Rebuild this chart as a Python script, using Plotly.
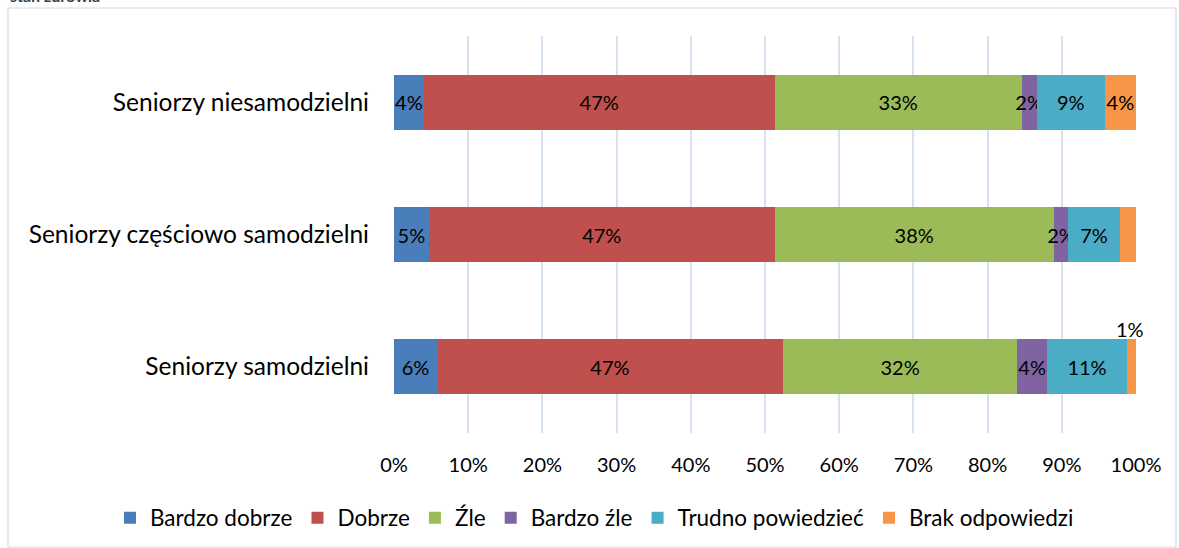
import plotly.graph_objects as go

categories = ["Seniorzy samodzielni", "Seniorzy częściowo samodzielni", "Seniorzy niesamodzielni"]
series_names = ["Bardzo dobrze", "Dobrze", "Źle", "Bardzo źle", "Trudno powiedzieć", "Brak odpowiedzi"]
# values in percent, order matches categories
bardzo_dobrze = [5.8, 4.7, 4.0]
dobrze = [46.6, 46.6, 47.3]
zle = [31.6, 37.6, 33.3]
bardzo_zle = [4.0, 2.0, 2.0]
trudno = [10.8, 6.9, 9.2]
brak = [1.2, 2.2, 4.2]
series_values = [bardzo_dobrze, dobrze, zle, bardzo_zle, trudno, brak]
# which labels are shown inside bars
show_label = [
    [True, True, True],
    [True, True, True],
    [True, True, True],
    [True, True, True],
    [True, True, True],
    [False, False, True],
]
colors = ["#4a7ebb", "#c0504d", "#9bbb59", "#8064a2", "#4bacc6", "#f79646"]
x_ticks = [0, 10, 20, 30, 40, 50, 60, 70, 80, 90, 100]

W, H = 1179, 548
L, T = 394, 36
pw, ph = 742, 397
R, B = W - L - pw, H - T - ph
FONT = "Lato"

fig = go.Figure()
for name, vals, show, col in zip(series_names, series_values, show_label, colors):
    txt = [f"{round(v)}%" if s else "" for v, s in zip(vals, show)]
    fig.add_trace(go.Bar(
        y=categories, x=vals, name=name, orientation="h",
        marker=dict(color=col, line=dict(width=0)),
        text=txt, textposition="inside", insidetextanchor="middle",
        textangle=0, constraintext="none",
        textfont=dict(color="black", size=20, family=FONT),
        hoverinfo="skip",
    ))

# outside label for the small orange segment of the bottom bar
cum = sum(series_values[i][0] for i in range(5))
fig.add_annotation(x=cum + brak[0] / 2, y=categories[0], text=f"{round(brak[0])}%",
                   showarrow=False, yshift=38, xshift=-2,
                   font=dict(size=20, color="black", family=FONT))

def px2x(px):  # pixel -> paper x
    return (px - L) / pw

def py2y(py):  # pixel -> paper y
    return 1 - (py - T) / ph

fig.add_shape(type="rect", xref="paper", yref="paper",
              x0=px2x(8), x1=px2x(1176), y0=py2y(547), y1=py2y(8),
              line=dict(color="#d5dde8", width=1.2), layer="below")

fig.add_annotation(xref="paper", yref="paper", x=px2x(8), y=py2y(-4), xanchor="left",
                   yanchor="middle", text="<b>stan zdrowia</b>", showarrow=False,
                   font=dict(size=16, color="#404040", family=FONT))

fig.update_layout(
    width=W, height=H, barmode="stack", bargap=0.585,
    margin=dict(l=L, r=R, t=T, b=B, autoexpand=False),
    paper_bgcolor="white", plot_bgcolor="white",
    font=dict(family=FONT, color="black"),
    legend=dict(orientation="h", x=px2x(110), xanchor="left", y=py2y(518), yanchor="middle",
                traceorder="normal", font=dict(size=22.5, family=FONT),
                itemwidth=30, tracegroupgap=0),
    showlegend=True,
)
fig.update_xaxes(range=[0, 100], tickvals=x_ticks, ticktext=[f"{v}%" for v in x_ticks],
                 showgrid=True, gridcolor="#d6e1ef", gridwidth=1.5, zeroline=False,
                 showline=False, tickfont=dict(size=20, family=FONT),
                 ticks="", ticklabelstandoff=18, automargin=False, fixedrange=True)
fig.update_yaxes(showgrid=False, showline=False, ticks="", automargin=False,
                 tickfont=dict(size=24.5, family=FONT), ticklabelstandoff=24,
                 fixedrange=True,
                 categoryorder="array", categoryarray=categories)

fig.write_html("out.html", config={"displayModeBar": False},
               post_script="document.body.style.margin='0';document.body.style.overflow='hidden';")
